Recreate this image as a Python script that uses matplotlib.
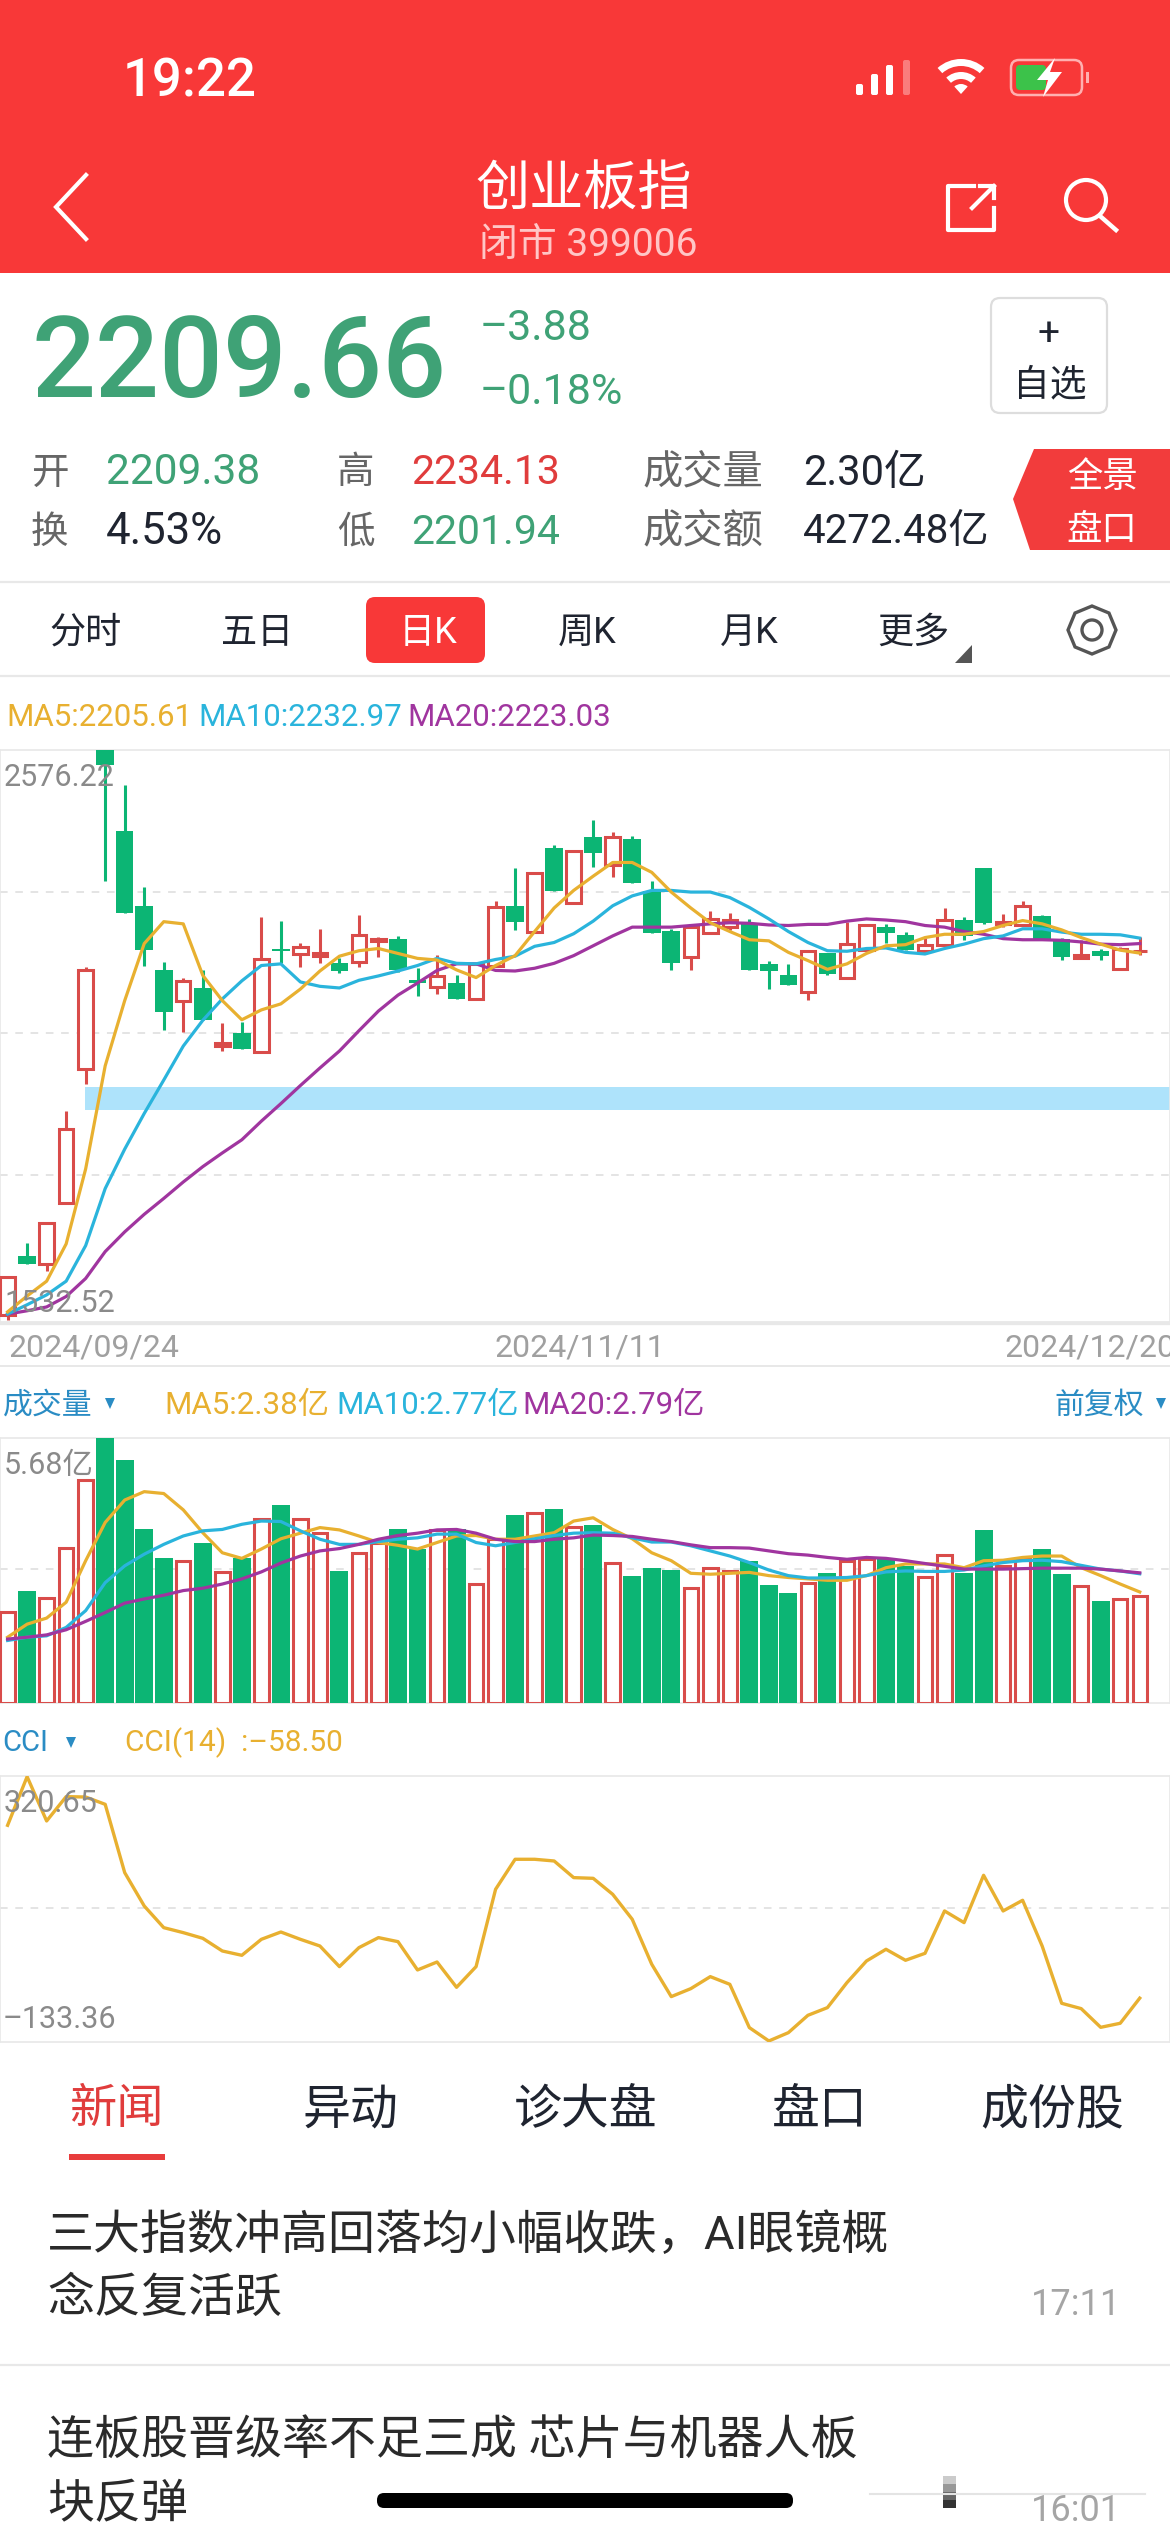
import matplotlib
matplotlib.use('Agg')
import matplotlib.pyplot as plt
from matplotlib.patches import Rectangle, FancyBboxPatch, Polygon, Circle, Wedge, RegularPolygon

plt.rcParams['font.family'] = ['Roboto', 'Noto Sans CJK SC', 'DejaVu Sans']

# price panel, one entry per trading day
opens = [1546, 1653, 1638, 1750, 1994, 2576, 2428, 2292, 2175, 2119,
         2142, 2036, 2059, 2026, 2213, 2204, 2201, 2188, 2189, 2227,
         2232, 2157, 2144, 2151, 2122, 2183, 2292, 2245, 2398, 2297,
         2418, 2366, 2413, 2319, 2246, 2198, 2242, 2254, 2259, 2186,
         2165, 2135, 2205, 2161, 2211, 2254, 2238, 2209, 2220, 2266,
         2360, 2258, 2256, 2273, 2232, 2196, 2209, 2177, 2209.38]
closes = [1615, 1639, 1714, 1884, 2175, 2549, 2279, 2211, 2098, 2155,
          2084, 2041, 2031, 2194, 2209, 2217, 2206, 2173, 2239, 2232,
          2175, 2151, 2164, 2121, 2186, 2289, 2263, 2351, 2319, 2392,
          2389, 2418, 2333, 2242, 2188, 2254, 2268, 2266, 2174, 2173,
          2148, 2209, 2167, 2223, 2256, 2242, 2212, 2221, 2266, 2237,
          2260, 2263, 2292, 2232, 2199, 2203, 2200, 2214, 2209.66]
highs = [1615, 1677, 1714, 1918, 2181, 2576, 2513, 2326, 2190, 2161,
         2174, 2079, 2080, 2271, 2265, 2224, 2250, 2196, 2276, 2235,
         2237, 2178, 2203, 2165, 2187, 2301, 2360, 2351, 2402, 2392,
         2448, 2426, 2419, 2337, 2250, 2259, 2283, 2279, 2268, 2192,
         2186, 2209, 2206, 2263, 2259, 2259, 2245, 2234, 2288, 2272,
         2360, 2277, 2301, 2275, 2234, 2230, 2214, 2217, 2234.13]
lows = [1537, 1639, 1626, 1750, 1967, 2338, 2279, 2182, 2066, 2062,
        2084, 2027, 2031, 2026, 2187, 2180, 2187, 2169, 2181, 2199,
        2171, 2128, 2131, 2121, 2122, 2183, 2247, 2245, 2319, 2297,
        2363, 2344, 2333, 2242, 2174, 2174, 2242, 2248, 2174, 2140,
        2148, 2120, 2165, 2161, 2211, 2224, 2212, 2205, 2216, 2230,
        2258, 2254, 2256, 2232, 2193, 2196, 2193, 2177, 2201.94]
ma5 = [1551, 1580, 1607, 1675, 1812, 2000, 2119, 2223, 2263, 2259,
       2165, 2119, 2084, 2102, 2113, 2140, 2173, 2200, 2210, 2214,
       2205, 2196, 2193, 2175, 2161, 2183, 2201, 2245, 2288, 2320,
       2346, 2371, 2371, 2353, 2317, 2288, 2261, 2245, 2230, 2228,
       2207, 2192, 2176, 2186, 2205, 2219, 2221, 2234, 2240, 2240,
       2245, 2256, 2265, 2259, 2248, 2234, 2222, 2211, 2205.61]
ma10 = [1547, 1564, 1582, 1607, 1672, 1776, 1848, 1913, 1974, 2036,
        2083, 2122, 2155, 2183, 2186, 2153, 2145, 2142, 2156, 2164,
        2173, 2183, 2196, 2187, 2186, 2194, 2200, 2218, 2225, 2241,
        2264, 2292, 2310, 2320, 2320, 2317, 2317, 2307, 2289, 2268,
        2245, 2225, 2210, 2209, 2214, 2215, 2207, 2204, 2214, 2222,
        2232, 2237, 2250, 2250, 2244, 2240, 2240, 2239, 2232.97]
ma20 = [1547, 1553, 1560, 1579, 1612, 1661, 1697, 1729, 1758, 1788,
        1816, 1841, 1865, 1899, 1931, 1964, 1996, 2027, 2064, 2100,
        2129, 2151, 2174, 2186, 2186, 2174, 2173, 2178, 2187, 2201,
        2219, 2237, 2253, 2253, 2253, 2256, 2259, 2261, 2260, 2257,
        2256, 2258, 2258, 2264, 2268, 2266, 2263, 2256, 2253, 2245,
        2240, 2232, 2230, 2230, 2229, 2226, 2222, 2221, 2223.03]

# volume panel, in 亿
volumes = [1.96, 2.39, 2.26, 3.32, 4.79, 5.68, 5.20, 3.72, 3.10, 3.05,
           3.42, 2.80, 3.10, 3.95, 4.24, 3.95, 3.64, 2.83, 3.22, 3.44,
           3.74, 3.30, 3.71, 3.74, 2.55, 3.51, 4.04, 4.08, 4.16, 3.78,
           3.81, 3.01, 2.73, 2.90, 2.85, 2.46, 2.89, 2.83, 3.05, 2.53,
           2.36, 2.58, 2.78, 3.05, 3.08, 3.08, 2.94, 2.70, 3.17, 2.78,
           3.71, 2.94, 3.08, 3.31, 2.76, 2.50, 2.19, 2.23, 2.30]
vol_ma5 = [1.41, 1.69, 1.82, 2.16, 3.05, 3.87, 4.35, 4.53, 4.49, 4.14,
           3.65, 3.22, 3.10, 3.30, 3.52, 3.64, 3.76, 3.71, 3.58, 3.44,
           3.38, 3.30, 3.44, 3.58, 3.59, 3.51, 3.51, 3.58, 3.65, 3.90,
           3.97, 3.72, 3.52, 3.22, 3.05, 2.78, 2.76, 2.78, 2.80, 2.73,
           2.69, 2.66, 2.63, 2.63, 2.73, 2.90, 2.98, 2.98, 2.98, 2.90,
           3.05, 3.06, 3.12, 3.15, 3.15, 2.90, 2.73, 2.55, 2.38]
vol_ma10 = [1.34, 1.41, 1.44, 1.62, 1.98, 2.58, 2.94, 3.19, 3.40, 3.58,
            3.69, 3.72, 3.83, 3.90, 3.89, 3.69, 3.51, 3.40, 3.40, 3.46,
            3.51, 3.54, 3.62, 3.62, 3.44, 3.37, 3.44, 3.52, 3.59, 3.64,
            3.65, 3.64, 3.54, 3.45, 3.45, 3.37, 3.26, 3.15, 3.01, 2.85,
            2.73, 2.68, 2.68, 2.69, 2.73, 2.81, 2.83, 2.82, 2.82, 2.85,
            2.94, 3.01, 3.05, 3.06, 3.03, 2.95, 2.87, 2.83, 2.77]
vol_ma20 = [1.37, 1.41, 1.46, 1.57, 1.75, 1.94, 2.14, 2.23, 2.31, 2.41,
            2.46, 2.55, 2.66, 2.81, 3.00, 3.15, 3.26, 3.31, 3.40, 3.51,
            3.59, 3.64, 3.71, 3.72, 3.64, 3.51, 3.46, 3.46, 3.51, 3.54,
            3.60, 3.59, 3.57, 3.51, 3.46, 3.39, 3.33, 3.33, 3.32, 3.26,
            3.20, 3.17, 3.12, 3.08, 3.12, 3.10, 3.05, 2.99, 2.93, 2.87,
            2.87, 2.87, 2.88, 2.89, 2.89, 2.89, 2.87, 2.83, 2.79]

# CCI(14) panel
cci = [236.5, 319.5, 243.9, 285.4, 284.8, 272.3, 155.7, 98.8, 61.8, 53.3,
       43.6, 22.0, 14.6, 41.9, 54.4, 41.9, 30.5, -4.7, 27.7, 44.8,
       37.9, -10.4, 3.2, -40.0, -4.7, 127.3, 178.5, 178.5, 175.6, 147.2,
       146.0, 118.7, 76.1, -0.7, -55.9, -42.3, -21.8, -34.9, -108.8, -131.6,
       -117.4, -87.8, -74.7, -32.0, 4.9, 24.9, 6.1, 18.0, 90.3, 70.4,
       151.2, 90.3, 108.5, 30.5, -67.3, -76.4, -108.3, -101.4, -58.5]

date_labels = ['2024/09/24', '2024/11/11', '2024/12/20']
days = list(range(len(closes)))

W, H = 1170, 2532
RED = '#d94c4a'
GREEN = '#0cb574'
UP_TEXT = '#e03c3c'
DOWN_TEXT = '#3fa276'
ORANGE = '#e8b030'
CYAN = '#2ab4dc'
PURPLE = '#a0359f'
BLUE = '#2a8cc4'
DARK = '#1f2430'
GREY = '#8a8a8a'
HEADER = '#f83838'
LINE = '#e8e8e8'


def panel(top, bottom):
    # axes placed by pixel rows, x shared with the candle spacing
    a = fig.add_axes([0, 1 - bottom / H, 1, (bottom - top) / H], facecolor='white')
    a.set_xlim(-0.389, 59.55)
    a.set_xticks([])
    a.tick_params(left=False, labelleft=False)
    for s in a.spines.values():
        s.set_color(LINE)
        s.set_linewidth(1.2)
    a.grid(axis='y', color='#dddddd', linestyle=(0, (5, 5)), linewidth=1.1)
    a.set_axisbelow(True)
    return a


def draw_ma(a, series, colors):
    for values, color in zip(series, colors):
        a.plot(days, values, color=color, linewidth=2.3, solid_joinstyle='round', zorder=4)


def label(x, y, s, size, color=DARK, ha='left', **kw):
    # text centres sit a few pixels low in the reference
    ui.text(x, y + 6, s, fontsize=size, color=color, ha=ha, va='center', **kw)


fig = plt.figure(figsize=(W / 100, H / 100), dpi=100, facecolor='white')

# candles
ax = panel(750, 1322)
ax.set_ylim(1532.52, 2576.22)
ax.set_yticks([1801, 2059, 2318])
ax.axhspan(1920, 1962, xmin=85 / W, color='#aee3fb', linewidth=0, zorder=1)
for i in days:
    up = closes[i] >= opens[i]
    color = RED if up else GREEN
    ax.vlines(i, lows[i], highs[i], color=color, linewidth=2.2, zorder=2)
    if up:
        ax.bar(i, closes[i] - opens[i], bottom=opens[i], width=0.74, facecolor='white',
               edgecolor=color, linewidth=2.2, zorder=3)
    else:
        ax.bar(i, opens[i] - closes[i], bottom=closes[i], width=0.9, color=color, zorder=3)
draw_ma(ax, [ma20, ma10, ma5], [PURPLE, CYAN, ORANGE])

# volume
ax_vol = panel(1438, 1703)
ax_vol.set_ylim(0, 5.68)
ax_vol.set_yticks([2.87])
for i in days:
    if closes[i] >= opens[i]:
        ax_vol.bar(i, volumes[i], width=0.74, facecolor='white', edgecolor=RED, linewidth=2.2, zorder=3)
    else:
        ax_vol.bar(i, volumes[i], width=0.92, color=GREEN, zorder=3)
draw_ma(ax_vol, [vol_ma5, vol_ma10, vol_ma20], [ORANGE, CYAN, PURPLE])

# CCI
ax_cci = panel(1776, 2042)
ax_cci.set_ylim(-133.36, 320.65)
ax_cci.set_yticks([96])
ax_cci.plot(days, cci, color=ORANGE, linewidth=2.4, solid_joinstyle='round', zorder=4)

# everything around the charts goes on one pixel-coordinate overlay
ui = fig.add_axes([0, 0, 1, 1], facecolor='none', zorder=10)
ui.set_xlim(0, W)
ui.set_ylim(H, 0)
ui.axis('off')

# header
ui.add_patch(Rectangle((0, 0), W, 273, color=HEADER, linewidth=0))
label(190, 76, '19:22', 38, 'white', ha='center', fontweight='medium')
for bx, by, alpha in [(856, 84, 1), (871, 74, 1), (886, 65, 1), (903, 60, 0.35)]:
    ui.add_patch(FancyBboxPatch((bx, by), 7, 95 - by, boxstyle='round,pad=0,rounding_size=2',
                                facecolor='white', alpha=alpha, linewidth=0))
ui.add_patch(Wedge((961, 94), 35, 228, 312, width=7, color='white', linewidth=0))
ui.add_patch(Wedge((961, 94), 22, 228, 312, width=7, color='white', linewidth=0))
ui.add_patch(Wedge((961, 94), 10, 228, 312, color='white', linewidth=0))
ui.add_patch(FancyBboxPatch((1011, 60), 71, 35, boxstyle='round,pad=0,rounding_size=8',
                            facecolor='none', edgecolor='#ffb0b0', linewidth=1.8))
ui.add_patch(FancyBboxPatch((1016, 65), 30, 25, boxstyle='round,pad=0,rounding_size=4',
                            facecolor='#3cc24a', linewidth=0))
ui.add_patch(Polygon([(1055, 58), (1037, 80), (1048, 80), (1043, 97), (1062, 72), (1050, 72)], color='white', linewidth=0))
ui.add_patch(Rectangle((1086, 72), 3, 11, color='#ffb0b0', linewidth=0))
ui.plot([86, 56, 86], [175, 207, 239], color='white', linewidth=3, solid_joinstyle='miter')
label(584, 184, '创业板指', 39, 'white', ha='center')
label(588, 239, '闭市 399006', 28, '#ffc6c6', ha='center')
ui.plot([974, 948, 948, 994, 994], [186, 186, 230, 230, 208], color='white', linewidth=3)
ui.plot([972, 994], [208, 186], color='white', linewidth=3)
ui.plot([980, 994, 994], [186, 186, 198], color='white', linewidth=3)
ui.add_patch(Circle((1086, 200), 20, facecolor='none', edgecolor='white', linewidth=3))
ui.plot([1100, 1116], [216, 230], color='white', linewidth=3.2)

# quote block
label(32, 360, '2209.66', 81, DOWN_TEXT, fontweight='medium')
label(480, 323, '–3.88', 31, DOWN_TEXT)
label(480, 386, '–0.18%', 31, DOWN_TEXT)
ui.add_patch(FancyBboxPatch((991, 298), 116, 115, boxstyle='round,pad=0,rounding_size=9',
                            facecolor='white', edgecolor='#dddddd', linewidth=1.6))
label(1049, 329, '+', 28, DARK, ha='center')
label(1050, 379, '自选', 26.5, DARK, ha='center')
label(31, 467, '开', 27, '#666666')
label(106, 467, '2209.38', 30.5, DOWN_TEXT)
label(337, 467, '高', 27, '#666666')
label(411, 467, '2234.13', 29.5, UP_TEXT)
label(642, 467, '成交量', 29, '#666666')
label(803, 467, '2.30亿', 30, DARK)
label(31, 526, '换', 27, '#666666')
label(106, 526, '4.53%', 31.5, DARK)
label(337, 526, '低', 27, '#666666')
label(411, 526, '2201.94', 29.5, DOWN_TEXT)
label(642, 526, '成交额', 29, '#666666')
label(803, 526, '4272.48亿', 29, DARK)
ui.add_patch(Polygon([(1034, 449), (W, 449), (W, 550), (1030, 550), (1013, 499)], color='#f23c3c', linewidth=0))
label(1102, 472, '全景', 25.5, 'white', ha='center')
label(1102, 524, '盘口', 25.5, 'white', ha='center')
ui.plot([0, W], [582, 582], color=LINE, linewidth=1.6)

# period tabs
for tab_x, tab in [(86, '分时'), (257, '五日'), (587, '周K'), (749, '月K'), (913, '更多')]:
    label(tab_x, 627, tab, 26, DARK, ha='center')
ui.add_patch(FancyBboxPatch((366, 597), 119, 66, boxstyle='round,pad=0,rounding_size=9',
                            facecolor='#f83838', linewidth=0))
label(428, 627, '日K', 26, 'white', ha='center')
ui.add_patch(Polygon([(972, 645), (972, 663), (955, 663)], color='#555555', linewidth=0))
ui.add_patch(RegularPolygon((1092, 630), 8, radius=24, facecolor='none', edgecolor='#555555', linewidth=2.4))
ui.add_patch(Circle((1092, 630), 10, facecolor='none', edgecolor='#555555', linewidth=2.4))
ui.plot([0, W], [676, 676], color=LINE, linewidth=1.6)

# price legend and labels
label(6, 711, 'MA5:2205.61', 22.5, ORANGE)
label(198, 711, 'MA10:2232.97', 22.5, CYAN)
label(407, 711, 'MA20:2223.03', 22.5, PURPLE)
label(4, 772, '2576.22', 22, GREY)
label(4, 1297, '1532.52', 22, GREY)
ui.plot([0, W], [1323, 1323], color=LINE, linewidth=2.4)
label(8, 1342, date_labels[0], 23, '#a0a0a0')
label(494, 1342, date_labels[1], 23, '#a0a0a0')
label(1004, 1342, date_labels[2], 23, '#a0a0a0')
ui.plot([0, W], [1366, 1366], color=LINE, linewidth=1.4)

# volume header
label(3, 1400, '成交量', 21.5, BLUE)
ui.add_patch(Polygon([(105, 1398), (115, 1398), (110, 1409)], color=BLUE, linewidth=0))
label(164, 1400, 'MA5:2.38亿', 22.5, ORANGE)
label(336, 1400, 'MA10:2.77亿', 22.5, CYAN)
label(522, 1400, 'MA20:2.79亿', 22.5, PURPLE)
label(1054, 1400, '前复权', 21.5, BLUE)
ui.add_patch(Polygon([(1156, 1398), (1166, 1398), (1161, 1409)], color=BLUE, linewidth=0))
label(4, 1459, '5.68亿', 22, GREY)

# CCI header
label(2, 1737, 'CCI', 21, BLUE)
ui.add_patch(Polygon([(66, 1737), (76, 1737), (71, 1748)], color=BLUE, linewidth=0))
label(125, 1737, 'CCI(14)  :–58.50', 21.5, ORANGE)
label(4, 1797, '320.65', 22, GREY)
label(3, 2014, '–133.36', 22, GREY)

# news tabs
label(116, 2104, '新闻', 34, UP_TEXT, ha='center')
for tab_x, tab in [(350, '异动'), (586, '诊大盘'), (820, '盘口'), (1052, '成份股')]:
    label(tab_x, 2104, tab, 34.5, DARK, ha='center')
ui.add_patch(Rectangle((69, 2154), 96, 6, color='#e83c3c', linewidth=0))

# news list
label(47, 2230, '三大指数冲高回落均小幅收跌，AI眼镜概', 33.8, '#2a2a2a')
label(47, 2293, '念反复活跃', 33.8, '#2a2a2a')
label(1121, 2299, '17:11', 26, '#a5a5a5', ha='right')
ui.plot([0, W], [2365, 2365], color=LINE, linewidth=1.6)
label(47, 2435, '连板股晋级率不足三成 芯片与机器人板', 33.8, '#2a2a2a')
label(47, 2499, '块反弹', 33.8, '#2a2a2a')
label(1121, 2505, '16:01', 26, '#a5a5a5', ha='right')
ui.add_patch(Rectangle((870, 2472), 275, 30, color='white', linewidth=0))
ui.plot([870, 1145], [2494, 2494], color='#e4e4e4', linewidth=1.5)
for seg_y, seg_alpha in [(2476, 0.25), (2484, 0.5), (2492, 0.75), (2500, 1)]:
    ui.add_patch(Rectangle((943, seg_y), 13, 8, color='#333333', alpha=seg_alpha, linewidth=0))
ui.add_patch(FancyBboxPatch((377, 2493), 416, 15, boxstyle='round,pad=0,rounding_size=7',
                            facecolor='black', linewidth=0))

fig.savefig('out.png', dpi=100)
